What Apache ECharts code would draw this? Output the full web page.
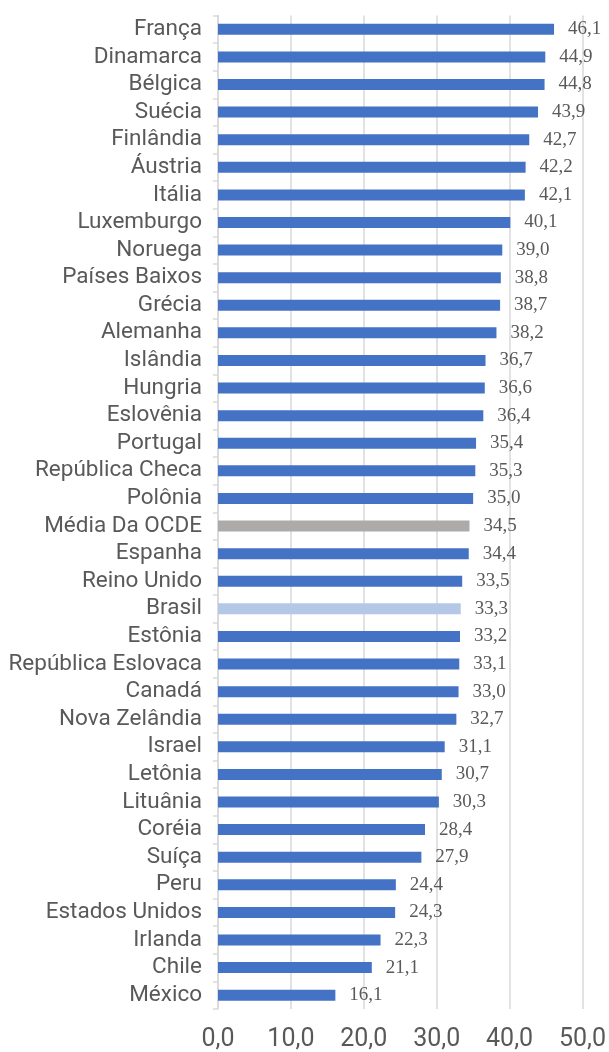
<!DOCTYPE html>
<html>
<head>
<meta charset="utf-8">
<script src="https://cdn.jsdelivr.net/npm/echarts@6/dist/echarts.min.js"></script>
<style>html,body{margin:0;padding:0;background:#fff}#c{width:609px;height:1052px}</style>
</head>
<body>
<div id="c"></div>
<script>
const categories = ["França","Dinamarca","Bélgica","Suécia","Finlândia","Áustria","Itália","Luxemburgo","Noruega","Países Baixos","Grécia","Alemanha","Islândia","Hungria","Eslovênia","Portugal","República Checa","Polônia","Média Da OCDE","Espanha","Reino Unido","Brasil","Estônia","República Eslovaca","Canadá","Nova Zelândia","Israel","Letônia","Lituânia","Coréia","Suíça","Peru","Estados Unidos","Irlanda","Chile","México"];
const values = [46.1,44.9,44.8,43.9,42.7,42.2,42.1,40.1,39.0,38.8,38.7,38.2,36.7,36.6,36.4,35.4,35.3,35.0,34.5,34.4,33.5,33.3,33.2,33.1,33.0,32.7,31.1,30.7,30.3,28.4,27.9,24.4,24.3,22.3,21.1,16.1];
const xTicks = [0,10,20,30,40,50];
const highlight = {"Média Da OCDE":"#ADAAAA","Brasil":"#B4C7E7"};
const baseColor = "#4472C4";

const chart = echarts.init(document.getElementById('c'));
chart.setOption({
  animation:false,
  grid:{left:218,right:26,top:15.5,bottom:42.5,containLabel:false},
  xAxis:{type:'value',min:xTicks[0],max:xTicks[xTicks.length-1],interval:10,
    axisLine:{show:false},axisTick:{show:false},
    splitLine:{lineStyle:{color:'#D9D9D9',width:1.5}},
    axisLabel:{fontFamily:'Roboto',fontSize:25,color:'#595959',margin:18,
      formatter:v=>v.toFixed(1).replace('.',',')}},
  yAxis:{type:'category',data:categories,inverse:true,
    axisLine:{show:true,lineStyle:{color:'#D9D9D9',width:1.5}},
    axisTick:{show:true,length:5,lineStyle:{color:'#D9D9D9',width:1.5}},
    axisLabel:{interval:0,fontFamily:'Roboto',fontSize:22.5,color:'#595959',margin:16}},
  series:[{type:'bar',barWidth:11,
    data:categories.map((c,i)=>({value:values[i],itemStyle:{color:highlight[c]||baseColor}})),
    label:{show:true,position:'right',distance:14,fontFamily:'Liberation Serif',fontSize:19,color:'#595959',
      formatter:p=>p.value.toFixed(1).replace('.',',')}}]
});
</script>
</body>
</html>
